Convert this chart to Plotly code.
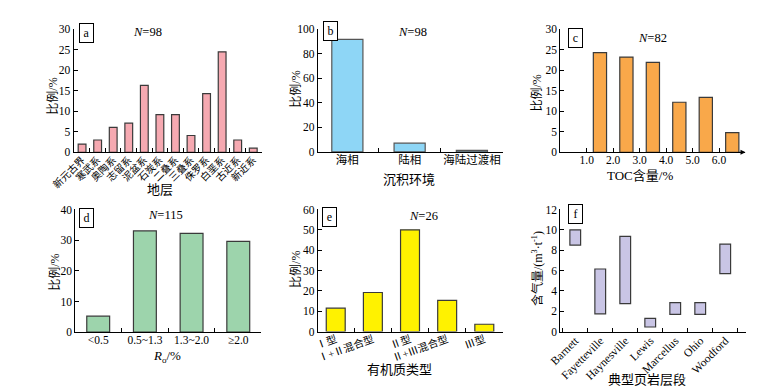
import plotly.graph_objects as go

W, H = 763, 389
FONT = "Liberation Serif, Noto Sans CJK SC, serif"

# ---------------- data ----------------
a_cats = ["新元古界", "寒武系", "奥陶系", "志留系", "泥盆系", "石炭系", "二叠系", "三叠系", "侏罗系", "白垩系", "古近系", "新近系"]
a_vals = [2.0, 3.0, 6.1, 7.1, 16.3, 9.2, 9.2, 4.1, 14.3, 24.5, 3.0, 1.0]

b_cats = ["海相", "陆相", "海陆过渡相"]
b_vals = [91.8, 7.1, 1.2]

c_x = [1.5, 2.5, 3.5, 4.5, 5.5, 6.5]
c_vals = [24.3, 23.2, 21.9, 12.2, 13.4, 4.8]
c_ticks = [1, 2, 3, 4, 5, 6]
c_ticktext = ["1.0", "2.0", "3.0", "4.0", "5.0", "6.0"]

d_cats = ["<0.5", "0.5~1.3", "1.3~2.0", "≥2.0"]
d_vals = [5.2, 33.0, 32.2, 29.6]

e_cats = ["Ⅰ型", "Ⅰ+Ⅱ混合型", "Ⅱ型", "Ⅱ+Ⅲ混合型", "Ⅲ型"]
e_vals = [11.5, 19.2, 50.0, 15.3, 3.6]

f_cats = ["Barnett", "Fayetteville", "Haynesville", "Lewis", "Marcellus", "Ohio", "Woodford"]
f_low = [8.5, 1.75, 2.75, 0.45, 1.7, 1.7, 5.7]
f_high = [10.0, 6.15, 9.35, 1.3, 2.85, 2.85, 8.6]

# ---------------- helpers ----------------
def px(x):
    return x / W

def py(y):
    return 1 - y / H

def dom_x(x0, x1):
    return [px(x0), px(x1)]

def dom_y(top, bottom):
    return [py(bottom), py(top)]

OUT = "#3a3a3a"

fig = go.Figure()

fig.add_trace(go.Bar(x=a_cats, y=a_vals, width=0.5, marker=dict(color="#F6A9B1", line=dict(color=OUT, width=1.2)), xaxis="x", yaxis="y"))
fig.add_trace(go.Bar(x=b_cats, y=b_vals, width=0.5, marker=dict(color="#8ED6F6", line=dict(color="#555555", width=1.2)), xaxis="x2", yaxis="y2"))
fig.add_trace(go.Bar(x=c_x, y=c_vals, width=0.5, marker=dict(color="#F9A84A", line=dict(color=OUT, width=1.2)), xaxis="x3", yaxis="y3"))
fig.add_trace(go.Bar(x=d_cats, y=d_vals, width=0.49, marker=dict(color="#9DD4AC", line=dict(color=OUT, width=1.2)), xaxis="x4", yaxis="y4"))
fig.add_trace(go.Bar(x=e_cats, y=e_vals, width=0.51, marker=dict(color="#FFF200", line=dict(color=OUT, width=1.2)), xaxis="x5", yaxis="y5"))
fig.add_trace(go.Bar(x=f_cats, y=[h - l for h, l in zip(f_high, f_low)], base=f_low, width=0.43,
                     marker=dict(color="#C9C5E5", line=dict(color=OUT, width=1.2)), xaxis="x6", yaxis="y6"))

tickfont = dict(family=FONT, size=11.5, color="black")
common_y = dict(showline=True, linecolor="black", linewidth=1, ticks="inside", ticklen=4, tickcolor="black",
                showgrid=False, zeroline=False, tickfont=tickfont, fixedrange=True)
common_xc = dict(type="category", showline=True, linecolor="black", linewidth=1, ticks="inside", ticklen=4,
                 tickcolor="black", tickson="boundaries", showgrid=False, zeroline=False, tickfont=tickfont,
                 ticklabelstandoff=-3)

fig.update_layout(
    width=W, height=H, margin=dict(l=0, r=0, t=0, b=0),
    paper_bgcolor="white", plot_bgcolor="white", showlegend=False,
    font=dict(family=FONT, size=11, color="black"),
    # a
    xaxis=dict(common_xc, domain=dom_x(44, 238), range=[-0.54, 11.55], anchor="y", tickangle=-45,
               tickfont=dict(family=FONT, size=10, color="black")),
    yaxis=dict(common_y, domain=dom_y(15.7, 142.7), range=[0, 30], tickvals=[0, 5, 10, 15, 20, 25, 30], anchor="x"),
    # b
    xaxis2=dict(common_xc, domain=dom_x(295.7, 486.7), range=[-0.475, 2.5], anchor="y2", tickangle=0),
    yaxis2=dict(common_y, domain=dom_y(15.7, 142.3), range=[0, 100], tickvals=[0, 20, 40, 60, 80, 100], anchor="x2"),
    # c
    xaxis3=dict(showline=True, linecolor="black", linewidth=1, ticks="inside", ticklen=4, tickcolor="black",
                showgrid=False, zeroline=False, tickfont=tickfont, domain=dom_x(545.7, 736.7), range=[0, 7],
                tickvals=c_ticks, ticktext=c_ticktext, anchor="y3", ticklabelstandoff=-3),
    yaxis3=dict(common_y, domain=dom_y(15.7, 142.7), range=[0, 30], tickvals=[0, 5, 10, 15, 20, 25, 30], anchor="x3"),
    # d
    xaxis4=dict(common_xc, domain=dom_x(45.7, 237.3), range=[-0.49, 3.49], anchor="y4", tickangle=0),
    yaxis4=dict(common_y, domain=dom_y(201.7, 328.3), range=[0, 40], tickvals=[0, 10, 20, 30, 40], anchor="x4"),
    # e
    xaxis5=dict(common_xc, domain=dom_x(295.7, 486.7), range=[-0.483, 4.504], anchor="y5", tickangle=-20,
                tickfont=dict(family=FONT, size=10.5, color="black")),
    yaxis5=dict(common_y, domain=dom_y(201.7, 327.7), range=[0, 60], tickvals=[0, 10, 20, 30, 40, 50, 60], anchor="x5"),
    # f
    xaxis6=dict(common_xc, domain=dom_x(545.7, 737.7), range=[-0.6, 6.85], anchor="y6", tickangle=-45),
    yaxis6=dict(common_y, domain=dom_y(201.7, 327.7), range=[0, 12], tickvals=[0, 2, 4, 6, 8, 10, 12], anchor="x6"),
)

ann = []

def text(x, y, t, size=12, angle=0):
    ann.append(dict(x=px(x), y=py(y), xref="paper", yref="paper", text=t, showarrow=False, textangle=angle,
                    xanchor="center", yanchor="middle", font=dict(family=FONT, size=size, color="black")))

def label(x, y, t):
    ann.append(dict(x=px(x), y=py(y), xref="paper", yref="paper", text=t, showarrow=False,
                    xanchor="center", yanchor="middle", bordercolor="black", borderwidth=1, borderpad=2,
                    width=9, bgcolor="white", font=dict(family=FONT, size=12, color="black")))

# panel labels
label(57, 19.5, "a")
label(309.3, 17.8, "b")
label(561.3, 25.2, "c")
label(57.5, 210.3, "d")
label(307.5, 209.7, "e")
label(561.3, 206.5, "f")

# N labels
text(120, 19, "<i>N</i>=98", size=12.5)
text(393.3, 19, "<i>N</i>=98", size=12.5)
text(640.7, 24.3, "<i>N</i>=82", size=12.5)
text(139, 207.7, "<i>N</i>=115", size=12.5)
text(404.3, 208.3, "<i>N</i>=26", size=12.5)

# y titles
text(23, 85, "比例/%", angle=-90)
text(273.3, 78, "比例/%", angle=-90)
text(521.7, 81, "比例/%", angle=-90)
text(25, 266.7, "比例/%", angle=-90)
text(273.3, 264, "比例/%", angle=-90)
text(523, 263, "含气量/(m<sup>3</sup>·t<sup>-1</sup>)", angle=-90)

# x titles
text(133.3, 181, "地层", size=13)
text(390, 170.7, "沉积环境", size=13)
text(628.3, 166.5, "TOC含量/%", size=13)
text(140, 353, "<i>R</i><sub>o</sub>/%", size=13)
text(380, 367, "有机质类型", size=13)
text(635, 377, "典型页岩层段", size=13)

# arrow at end of TOC axis
ann.append(dict(x=7.0, y=0, xref="x3", yref="y3", ax=-8, ay=0, axref="pixel", ayref="pixel", text="",
                showarrow=True, arrowhead=2, arrowsize=1, arrowwidth=1, arrowcolor="black"))

fig.update_layout(annotations=ann)

fig.write_html("out.html")
